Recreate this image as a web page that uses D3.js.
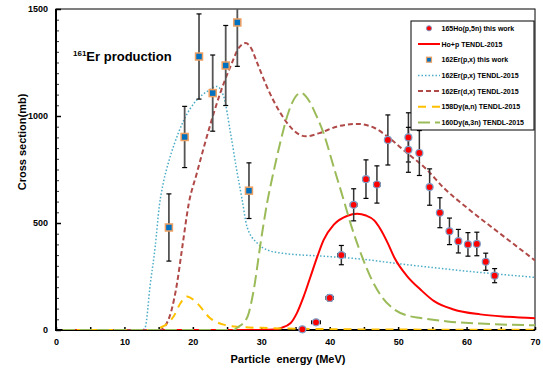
<!DOCTYPE html>
<html>
<head>
<meta charset="utf-8">
<script src="https://cdn.jsdelivr.net/npm/d3@7"></script>
<style>
  body { margin: 0; background: #fff; }
  text { font-family: "Liberation Sans", Arial, sans-serif; font-weight: bold; }
</style>
</head>
<body>
<svg id="chart" width="543" height="370"></svg>
<script>
// measured points: [energy MeV, cross section mb, y error, x error]
const hoPoints = [
  [36.0, 3, 2, 0], [38.0, 36, 6, 0.65], [40.0, 150, 14, 0.55], [41.7, 350, 45, 0.55],
  [43.5, 585, 75, 0.5], [45.3, 705, 90, 0.5], [46.9, 680, 87, 0.5], [48.5, 888, 117, 0.4],
  [51.5, 900, 115, 0.35], [51.5, 842, 105, 0.35], [53.1, 827, 105, 0.35], [54.6, 668, 85, 0.3],
  [56.1, 548, 70, 0.3], [57.5, 461, 62, 0.3], [58.8, 415, 55, 0.3], [60.2, 400, 55, 0.3],
  [61.5, 402, 55, 0.3], [62.8, 319, 40, 0.3], [64.1, 254, 33, 0.3]
];
const erPoints = [
  [16.5, 479, 157, 0.3], [18.8, 902, 143, 0.3], [20.9, 1278, 199, 0.3], [22.9, 1107, 178, 0.3],
  [24.8, 1236, 187, 0.3], [26.5, 1437, 205, 0.3], [28.2, 651, 130, 0.3]
];

// TENDL-2015 curves: [energy, cross section]
const hoTendl = [
  [1, 0], [30, 0], [32, 2], [32.8, 9], [34.3, 33], [35.2, 79], [36.2, 157], [37.2, 250],
  [38.2, 344], [39.1, 420], [40.6, 492], [42.6, 534], [44.0, 543], [45.3, 535], [46.5, 512],
  [47.4, 472], [48.5, 405], [49.5, 335], [51.3, 252], [53.3, 188], [55.2, 136], [58.1, 96],
  [62, 73], [66, 62], [70, 55]
];
const erPxTendl = [
  [1, 0], [12.6, 0], [13.0, 9], [13.8, 220], [14.5, 390], [15.1, 580], [15.7, 690], [16.5, 790],
  [17.3, 870], [18.6, 975], [20.6, 1076], [22.1, 1115], [23.5, 1138], [24.5, 1092], [25.5, 921],
  [26.4, 749], [27.2, 609], [27.9, 484], [29.4, 406], [30.8, 375], [32.8, 360], [40, 343],
  [45, 330], [50, 310], [55, 292], [60, 275], [65, 260], [70, 246]
];
const erDxTendl = [
  [1, 0], [15.2, 0], [15.7, 9], [16.9, 95], [17.7, 220], [18.4, 375], [19.4, 590], [20.6, 735],
  [22.1, 910], [24.0, 1107], [25.5, 1232], [26.8, 1322], [27.7, 1341], [28.5, 1318], [29.4, 1248],
  [30.8, 1138], [32.8, 1014], [34.5, 940], [36.5, 905], [38.5, 920], [41, 950], [44, 963],
  [46.5, 945], [48.4, 905], [51, 835], [54.2, 749], [56.7, 663], [60.1, 570], [65, 448], [70, 325]
];
const dyAnTendl = [
  [1, 0], [14.8, 0], [15.2, 9], [16.2, 28], [17.2, 64], [18.2, 126], [19.1, 157], [20.6, 126],
  [22.5, 56], [24.5, 25], [26.9, 14], [30, 10], [35, 6], [40, 4], [50, 2], [70, 1]
];
const dyA3nTendl = [
  [1, 0], [26, 0], [26.4, 9], [27.9, 56], [28.9, 188], [29.9, 406], [30.8, 585], [31.8, 740],
  [32.8, 880], [34, 1020], [35.0, 1090], [35.8, 1108], [37, 1070], [38, 1005], [39.1, 920],
  [40.6, 760], [42, 612], [43.2, 482], [44.5, 362], [46, 245], [47.4, 165], [49.4, 97],
  [51.3, 68], [53.3, 56], [57.2, 40], [62, 30], [70, 22]
];

const xTicks = [0, 10, 20, 30, 40, 50, 60, 70];
const yTicks = [0, 500, 1000, 1500];

const legendItems = [
  { label: '165Ho(p,5n) this work', kind: 'circle' },
  { label: 'Ho+p TENDL-2015', kind: 'line', color: '#ff0000', dash: null, w: 2 },
  { label: '162Er(p,x) this work', kind: 'square' },
  { label: '162Er(p,x) TENDL-2015', kind: 'line', color: '#4bacc6', dash: '1.5,2', w: 1.5 },
  { label: '162Er(d,x) TENDL-2015', kind: 'line', color: '#b04a48', dash: '5,3', w: 2 },
  { label: '158Dy(a,n) TENDL-2015', kind: 'line', color: '#ffc000', dash: '8,6', w: 2 },
  { label: '160Dy(a,3n) TENDL-2015', kind: 'line', color: '#9bbb59', dash: '12,5', w: 2 }
];

const svg = d3.select('#chart');
const m = { left: 56, right: 535, top: 9, bottom: 330 };

const x = d3.scaleLinear().domain([0, 70]).range([m.left, m.right]);
const y = d3.scaleLinear().domain([0, 1500]).range([m.bottom, m.top]);

svg.append('defs').append('clipPath').attr('id', 'plot')
  .append('rect').attr('x', m.left).attr('y', m.top)
  .attr('width', m.right - m.left).attr('height', m.bottom - m.top);

// frame
svg.append('rect')
  .attr('x', m.left).attr('y', m.top)
  .attr('width', m.right - m.left).attr('height', m.bottom - m.top)
  .attr('fill', 'none').attr('stroke', '#000').attr('stroke-width', 1);

// y axis
const yAxis = svg.append('g').attr('transform', `translate(${m.left},0)`)
  .call(d3.axisLeft(y).tickValues(yTicks).tickFormat(d3.format('d')).tickSize(0).tickPadding(8));
yAxis.select('.domain').remove();
yAxis.selectAll('text').attr('font-size', 9).attr('fill', '#000');
svg.append('g').attr('transform', `translate(${m.left},0)`)
  .call(d3.axisRight(y).tickValues(d3.range(0, 1501, 50)).tickSize(3).tickFormat(''))
  .call(g => g.select('.domain').remove())
  .selectAll('line').attr('stroke', '#333');
svg.append('g').attr('transform', `translate(${m.left},0)`)
  .call(d3.axisRight(y).tickValues(yTicks).tickSize(5).tickFormat(''))
  .call(g => g.select('.domain').remove())
  .selectAll('line').attr('stroke', '#000').attr('stroke-width', 1.5);

// x axis
const xAxis = svg.append('g').attr('transform', `translate(0,${m.bottom})`)
  .call(d3.axisBottom(x).tickValues(xTicks).tickSize(0).tickPadding(9));
xAxis.select('.domain').remove();
xAxis.selectAll('text').attr('font-size', 9).attr('fill', '#000');
svg.append('g').attr('transform', `translate(0,${m.bottom})`)
  .call(d3.axisTop(x).tickValues(d3.range(0, 71, 5)).tickSize(3).tickFormat(''))
  .call(g => g.select('.domain').remove())
  .selectAll('line').attr('stroke', '#000').attr('stroke-width', 1.5);

svg.append('line').attr('x1', m.left).attr('x2', m.left).attr('y1', m.top).attr('y2', m.bottom + 1)
  .attr('stroke', '#000').attr('stroke-width', 2);
svg.append('line').attr('x1', m.left - 1).attr('x2', m.right).attr('y1', m.bottom).attr('y2', m.bottom)
  .attr('stroke', '#000').attr('stroke-width', 2);

// axis titles
svg.append('text').attr('x', 288).attr('y', 363).attr('text-anchor', 'middle')
  .attr('font-size', 11).text('Particle\u00a0 energy (MeV)');
svg.append('text').attr('transform', 'translate(26,142) rotate(-90)')
  .attr('text-anchor', 'middle').attr('font-size', 11).text('Cross section(mb)');

// plot title
const title = svg.append('text').attr('x', 73).attr('y', 61).attr('font-size', 13);
title.append('tspan').attr('font-size', 8).attr('dy', -5).text('161');
title.append('tspan').attr('dy', 5).text('Er production');

const plot = svg.append('g').attr('clip-path', 'url(#plot)');

const line = d3.line().x(d => x(d[0])).y(d => y(d[1])).curve(d3.curveMonotoneX);

function curve(data, color, dash, w) {
  plot.append('path').datum(data)
    .attr('fill', 'none').attr('stroke', color).attr('stroke-width', w)
    .attr('stroke-dasharray', dash).attr('d', line);
}
curve(erPxTendl, '#4bacc6', '1.5,2', 1.5);
curve(hoTendl, '#ff0000', null, 2);
curve(erDxTendl, '#b04a48', '5,3', 2);
curve(dyAnTendl, '#ffc000', '8,6', 2);
curve(dyA3nTendl, '#9bbb59', '12,5', 2);

function errorBars(data, color, w) {
  const g = plot.append('g').attr('stroke', color).attr('stroke-width', w);
  data.forEach(d => {
    const cx = x(d[0]);
    if (d[2] > 3) {
      g.append('line').attr('x1', cx).attr('x2', cx)
        .attr('y1', y(d[1] - d[2])).attr('y2', y(d[1] + d[2]));
      [d[1] - d[2], d[1] + d[2]].forEach(v => {
        g.append('line').attr('x1', cx - 2.5).attr('x2', cx + 2.5)
          .attr('y1', y(v)).attr('y2', y(v)).attr('stroke', '#000').attr('stroke-width', 1.2);
      });
    }
    if (d[3] > 0) {
      const cy = y(d[1]);
      g.append('line').attr('x1', x(d[0] - d[3])).attr('x2', x(d[0] + d[3]))
        .attr('y1', cy).attr('y2', cy).attr('stroke', '#000').attr('stroke-width', 1.2);
      [d[0] - d[3], d[0] + d[3]].forEach(v => {
        g.append('line').attr('x1', x(v)).attr('x2', x(v))
          .attr('y1', cy - 2).attr('y2', cy + 2).attr('stroke', '#000').attr('stroke-width', 1);
      });
    }
  });
}
errorBars(erPoints, '#555', 1.8);
errorBars(hoPoints, '#333', 1.5);

plot.selectAll('.er').data(erPoints).enter().append('rect')
  .attr('x', d => x(d[0]) - 3.5).attr('y', d => y(d[1]) - 3.5)
  .attr('width', 7).attr('height', 7)
  .attr('fill', '#0070c0').attr('stroke', '#f0a060').attr('stroke-width', 1.5);

svg.selectAll('.ho').data(hoPoints).enter().append('circle')
  .attr('cx', d => x(d[0])).attr('cy', d => y(d[1])).attr('r', 3.5)
  .attr('fill', '#ff0000').attr('stroke', '#7f9fc8').attr('stroke-width', 1.2);

// legend
const lg = svg.append('g');
lg.append('rect').attr('x', 411).attr('y', 21).attr('width', 123).attr('height', 109)
  .attr('fill', '#fff').attr('stroke', '#000').attr('stroke-width', 1);
legendItems.forEach((it, i) => {
  const cy = 28.3 + i * 15.7;
  if (it.kind === 'circle') {
    lg.append('circle').attr('cx', 429).attr('cy', cy).attr('r', 2.6)
      .attr('fill', '#ff0000').attr('stroke', '#7f9fc8').attr('stroke-width', 1);
  } else if (it.kind === 'square') {
    lg.append('rect').attr('x', 426.5).attr('y', cy - 2.5).attr('width', 5).attr('height', 5)
      .attr('fill', '#0070c0').attr('stroke', '#f0a060').attr('stroke-width', 1.2);
  } else {
    lg.append('line').attr('x1', 418).attr('x2', 440).attr('y1', cy).attr('y2', cy)
      .attr('stroke', it.color).attr('stroke-width', it.w).attr('stroke-dasharray', it.dash);
  }
  lg.append('text').attr('x', 441.5).attr('y', cy + 2.5).attr('font-size', 7).text(it.label);
});
</script>
</body>
</html>
